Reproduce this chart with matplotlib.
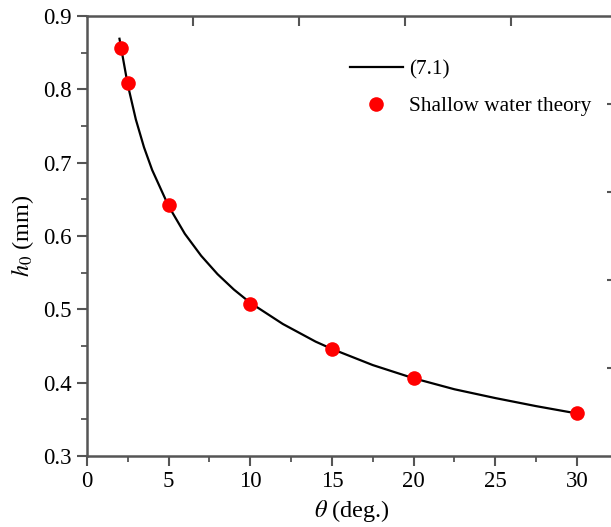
import numpy as np
import matplotlib.pyplot as plt

# (7.1) curve
theta_curve = [2.0, 2.5, 3.0, 3.5, 4.0, 5.0, 6.0, 7.0, 8.0, 9.0, 10.0,
               12.0, 14.0, 15.0, 17.5, 20.0, 22.5, 25.0, 27.5, 30.0]
h0_curve = [0.869, 0.807, 0.759, 0.721, 0.690, 0.641, 0.603, 0.573, 0.548,
            0.527, 0.509, 0.480, 0.456, 0.446, 0.424, 0.406, 0.391, 0.379,
            0.368, 0.358]

# shallow water theory points
theta_sw = [2.1, 2.5, 5, 10, 15, 20, 30]
h0_sw = [0.857, 0.808, 0.642, 0.507, 0.446, 0.407, 0.358]

plt.rcParams['font.family'] = ['Liberation Serif', 'DejaVu Serif']
plt.rcParams['mathtext.fontset'] = 'stix'

spine_col = "#555555"
W, H = 611, 527
fig = plt.figure(figsize=(W / 100, H / 100), dpi=100)
# the right edge of the original axes lies just outside the picture
x0, x1 = 86.8, 617.0
y0, y1 = 456.0, 16.0
ax = fig.add_axes([x0 / W, 1 - y0 / H, (x1 - x0) / W, (y0 - y1) / H])

xmax = (x1 - x0) / 16.34
ax.plot(theta_curve, h0_curve, color="k", lw=1.6, label="(7.1)", zorder=2)
ax.plot(theta_sw, h0_sw, "o", color="#ff0000", ms=10.5, mew=0,
        label="Shallow water theory", zorder=3)

ax.set_xlim(0, xmax)
ax.set_ylim(0.3, 0.9)
ax.set_xticks([0, 5, 10, 15, 20, 25, 30])
ax.set_xticks(np.arange(2.5, 32, 5), minor=True)
ax.set_yticks([0.3, 0.4, 0.5, 0.6, 0.7, 0.8, 0.9])
ax.set_yticks(np.arange(0.35, 0.9, 0.1), minor=True)
ax.tick_params(which="major", direction="out", length=7, width=1.5,
               color=spine_col, labelsize=16.5, labelcolor="k", pad=4)
ax.tick_params(which="minor", direction="out", length=4, width=1.3,
               color=spine_col)
for s in ax.spines.values():
    s.set_color(spine_col)
    s.set_linewidth(1.8)

# top and right axes carry unlabeled inward ticks
axt = ax.twiny()
axt.set_xlim(ax.get_xlim())
axt.set_xticks([xmax * k / 5 for k in range(1, 5)])
axt.tick_params(direction="in", length=7, width=1.5, color=spine_col,
                labeltop=False)
axr = ax.twinx()
axr.set_ylim(ax.get_ylim())
axr.set_yticks([0.42, 0.54, 0.66, 0.78])
axr.tick_params(direction="in", length=7, width=1.5, color=spine_col,
                labelright=False)
for a in (axt, axr):
    for s in a.spines.values():
        s.set_visible(False)

ax.set_xlabel(r"$\theta$ (deg.)", fontsize=17.5, labelpad=4)
ax.set_ylabel(r"$h_0$ (mm)", fontsize=17.5, labelpad=5)

leg = ax.legend(loc="upper left", bbox_to_anchor=(0.46, 0.945), frameon=False,
                fontsize=15.3, handlelength=2.5, handletextpad=0.3,
                labelspacing=0.8)

fig.savefig("out.png", dpi=100)
